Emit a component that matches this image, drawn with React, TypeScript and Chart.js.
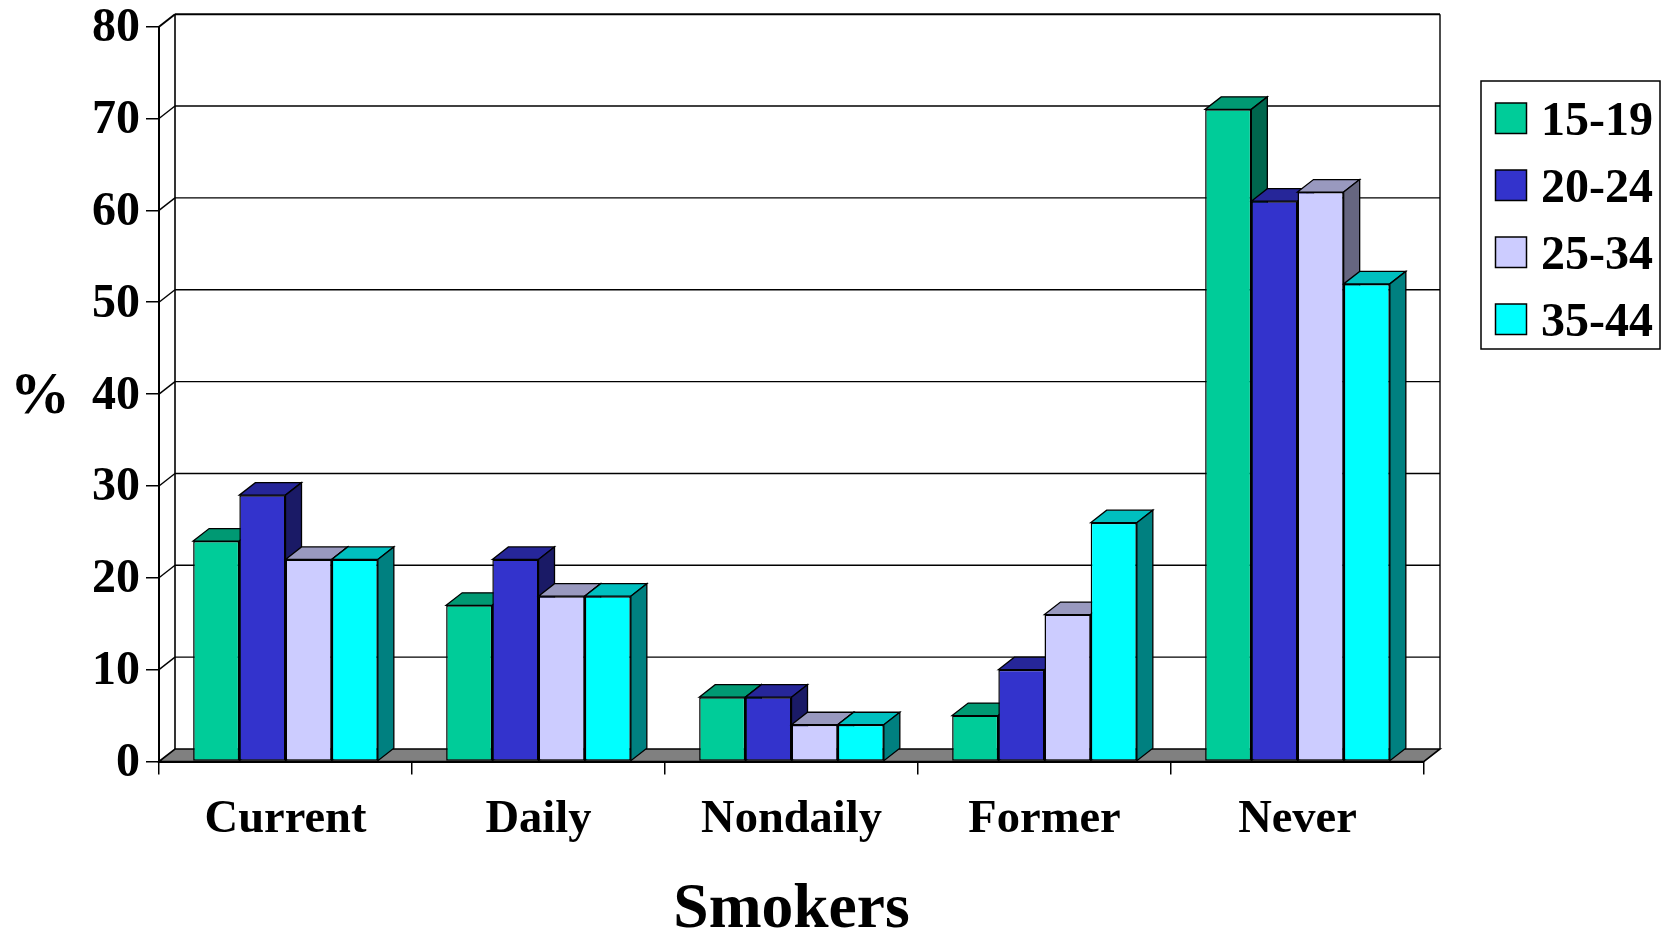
import React, { useEffect, useRef } from "react";
import { Chart, registerables } from "chart.js";

Chart.register(...registerables);

const categories = ["Current", "Daily", "Nondaily", "Former", "Never"];
const ageGroups = ["15-19", "20-24", "25-34", "35-44"];
const values15to19 = [24, 17, 7, 5, 71];
const values20to24 = [29, 22, 7, 10, 61];
const values25to34 = [22, 18, 4, 16, 62];
const values35to44 = [22, 18, 4, 26, 52];
const seriesValues = [values15to19, values20to24, values25to34, values35to44];
const frontColors = ["#00CC99", "#3333CC", "#CCCCFF", "#00FFFF"];
const topColors = ["#009973", "#262699", "#9999BF", "#00BFBF"];
const sideColors = ["#00664D", "#1A1A66", "#666680", "#008080"];

const SERIF = '"Liberation Serif", "Times New Roman", serif';
const DEPTH_X = 16;
const DEPTH_Y = -12.5;
const INK = "#000000";

function polygon(ctx: CanvasRenderingContext2D, pts: number[][], fill: string | null, lineWidth: number) {
  ctx.beginPath();
  pts.forEach(([x, y], i) => (i ? ctx.lineTo(x, y) : ctx.moveTo(x, y)));
  ctx.closePath();
  if (fill) {
    ctx.fillStyle = fill;
    ctx.fill();
  }
  ctx.lineWidth = lineWidth;
  ctx.strokeStyle = INK;
  ctx.lineJoin = "miter";
  ctx.stroke();
}

function segment(ctx: CanvasRenderingContext2D, x1: number, y1: number, x2: number, y2: number, width: number) {
  ctx.beginPath();
  ctx.moveTo(x1, y1);
  ctx.lineTo(x2, y2);
  ctx.lineWidth = width;
  ctx.strokeStyle = INK;
  ctx.stroke();
}

// Back wall, side wall and floor of the box that the columns stand in.
function drawRoom(chart: any) {
  const { ctx, chartArea } = chart;
  const { left, right, top, bottom } = chartArea;
  const yScale = chart.scales.y;
  ctx.save();
  yScale.ticks.forEach((tick: any) => {
    const py = yScale.getPixelForValue(tick.value);
    if (tick.value === 0) return;
    const isTop = py === top;
    const w = isTop ? 2 : 1.4;
    segment(ctx, left, py, left + DEPTH_X, py + DEPTH_Y, w);
    segment(ctx, left + DEPTH_X, py + DEPTH_Y, right + DEPTH_X, py + DEPTH_Y, w);
  });
  segment(ctx, left + DEPTH_X, top + DEPTH_Y, left + DEPTH_X, bottom + DEPTH_Y, 1.6);
  segment(ctx, right + DEPTH_X, top + DEPTH_Y, right + DEPTH_X, bottom + DEPTH_Y, 1.4);
  polygon(
    ctx,
    [
      [left, bottom],
      [left + DEPTH_X, bottom + DEPTH_Y],
      [right + DEPTH_X, bottom + DEPTH_Y],
      [right, bottom],
    ],
    "#808080",
    1.6
  );
  ctx.restore();
}

// Columns go from the left to the right so that each front covers the
// faces of the column before it.
function drawColumns(chart: any) {
  const { ctx } = chart;
  ctx.save();
  seriesValues.forEach((_, seriesIndex) => {
    const meta = chart.getDatasetMeta(seriesIndex);
    meta.data.forEach((bar: any) => {
      const x0 = bar.x - bar.width / 2;
      const x1 = bar.x + bar.width / 2;
      polygon(
        ctx,
        [
          [x0, bar.y],
          [x0 + DEPTH_X, bar.y + DEPTH_Y],
          [x1 + DEPTH_X, bar.y + DEPTH_Y],
          [x1, bar.y],
        ],
        topColors[seriesIndex],
        1.3
      );
      polygon(
        ctx,
        [
          [x1, bar.y],
          [x1 + DEPTH_X, bar.y + DEPTH_Y],
          [x1 + DEPTH_X, bar.base + DEPTH_Y],
          [x1, bar.base],
        ],
        sideColors[seriesIndex],
        1.3
      );
      bar.draw(ctx, chart.chartArea);
    });
  });
  ctx.restore();
}

const boxPlugin = {
  id: "columnBox",
  afterLayout(chart: any) {
    // The legend sits in its own frame to the right of the room.
    const legend = chart.legend;
    legend.left = 1476;
    legend.right = 1653;
    legend.top = 80;
    legend.bottom = 932;
    // Value labels sit slightly below the centre of their tick marks.
    chart.scales.y.getLabelItems(chart.chartArea).forEach((item: any) => {
      item.options.translation[1] += 2;
    });
  },
  beforeDatasetsDraw(chart: any) {
    drawRoom(chart);
    drawColumns(chart);
    return false;
  },
  afterDraw(chart: any) {
    const { ctx, chartArea, legend } = chart;
    ctx.save();
    ctx.strokeStyle = INK;
    ctx.lineWidth = 1.5;
    ctx.strokeRect(1481, 81, 179, 268);
    // Legend swatches, one per row of the legend.
    legend.legendItems.forEach((item: any, i: number) => {
      ctx.fillStyle = item.fillStyle;
      ctx.fillRect(1495.5, 103 + i * 67, 31, 30.5);
      ctx.lineWidth = 1.5;
      ctx.strokeRect(1495.5, 103 + i * 67, 31, 30.5);
    });
    ctx.fillStyle = INK;
    ctx.font = `bold 60px ${SERIF}`;
    ctx.textAlign = "center";
    ctx.textBaseline = "middle";
    ctx.fillText("%", 40, (chartArea.top + chartArea.bottom) / 2 + 3);
    ctx.restore();
  },
};

export default function App() {
  const canvasRef = useRef<HTMLCanvasElement>(null);

  useEffect(() => {
    const chart = new Chart(canvasRef.current!, {
      type: "bar",
      data: {
        labels: categories,
        datasets: ageGroups.map((label, i) => ({
          label,
          data: seriesValues[i],
          backgroundColor: frontColors[i],
          borderColor: INK,
          borderWidth: 1.5,
          borderSkipped: false,
          categoryPercentage: 0.73,
          barPercentage: 1,
        })),
      },
      options: {
        animation: false,
        responsive: false,
        layout: { padding: { top: 26.7, right: 239, left: 0, bottom: 0 } },
        plugins: {
          tooltip: { enabled: false },
          title: { display: false },
          legend: {
            position: "chartArea" as any,
            align: "start",
            labels: {
              boxWidth: 0,
              boxHeight: 30,
              padding: 19,
              color: INK,
              textAlign: "right",
              font: { family: SERIF, size: 48, weight: "bold" },
            },
          },
        },
        scales: {
          x: {
            grid: { display: true, drawOnChartArea: false, drawTicks: true, tickLength: 13, color: INK, lineWidth: 1.5 },
            border: { display: true, color: INK, width: 2 },
            ticks: {
              font: { family: SERIF, size: 46.5, weight: "bold", lineHeight: 1 },
              color: INK,
              maxRotation: 0,
              autoSkip: false,
              padding: 22,
            },
            title: {
              display: true,
              text: "Smokers",
              color: INK,
              font: { family: SERIF, size: 63.5, weight: "bold", lineHeight: 1 },
              padding: { top: 0, bottom: -10 },
            },
            afterFit(scale: any) {
              scale.height = 170.5;
              scale.paddingLeft = 0;
              scale.paddingRight = 0;
            },
          },
          y: {
            min: 0,
            max: 80,
            grid: { display: true, drawOnChartArea: false, drawTicks: true, tickLength: 13, color: INK, lineWidth: 1.5 },
            border: { display: true, color: INK, width: 2 },
            ticks: {
              stepSize: 10,
              font: { family: SERIF, size: 48, weight: "bold", lineHeight: 1 },
              color: INK,
              padding: 6,
            },
            afterFit(scale: any) {
              scale.width = 159;
              scale.paddingTop = 0;
              scale.paddingBottom = 0;
            },
          },
        },
      },
      plugins: [boxPlugin],
    } as any);
    return () => chart.destroy();
  }, []);

  return (
    <canvas
      ref={canvasRef}
      width={1663}
      height={932}
      style={{ position: "fixed", left: 0, top: 0, width: 1663, height: 932, background: "#ffffff" }}
    />
  );
}
